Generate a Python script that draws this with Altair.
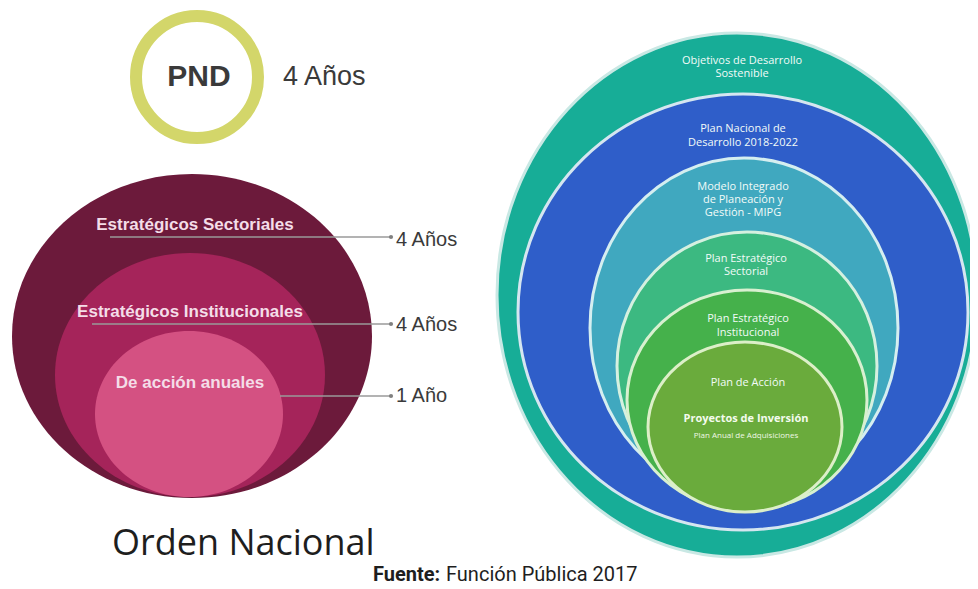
import altair as alt
import pandas as pd

# ---------------- data ----------------
shape_names = ["PND", "Sectoriales", "Institucionales", "Anuales",
               "ODS", "PND 2018-2022", "MIPG", "PE Sectorial", "PE Institucional", "Plan de Acción"]
shape_cx = [197, 192, 190, 189, 737, 743, 744, 747, 747, 745]
shape_cy = [77, 336, 375, 414, 295, 312, 328, 366, 400, 427]
shape_rx = [61, 180, 135, 94, 240, 225, 154, 130, 120, 97]
shape_ry = [61, 162, 122, 83, 262, 218, 170, 134, 110, 85]
shape_fill = ["#ffffff", "#6c1a3b", "#a5245a", "#d45182",
              "#17ad97", "#2f5ec9", "#40a8bf", "#3cb981", "#45b14b", "#6aab3c"]
shape_stroke = ["#d3d66a", "#6c1a3b", "#a5245a", "#d45182",
                "#c9e8e4", "#d5e6f0", "#d5eef0", "#d5f0e0", "#d8f0d0", "#dcefc8"]
shape_sw = [12, 0, 0, 0, 3, 3, 3, 3, 3, 3]

pnd_labels = ["PND", "4 Años"]
pnd_x = [199, 283]
pnd_y = [77, 77]

left_labels = ["Estratégicos Sectoriales", "Estratégicos Institucionales", "De acción anuales"]
left_label_x = [195, 190, 190]
left_label_y = [225, 312, 383]

period_labels = ["4 Años", "4 Años", "1 Año"]
leader_x1 = [110, 92, 280]
leader_x2 = [391, 391, 391]
leader_y = [237, 324, 396]

right_labels = ["Objetivos de Desarrollo", "Sostenible",
                "Plan Nacional de", "Desarrollo 2018-2022",
                "Modelo Integrado", "de Planeación y", "Gestión - MIPG",
                "Plan Estratégico", "Sectorial",
                "Plan Estratégico", "Institucional",
                "Plan de Acción"]
right_x = [742, 742, 743, 743, 743, 743, 743, 746, 746, 748, 748, 748]
right_y = [61, 74, 129, 143, 187, 200, 213, 259, 272, 319, 333, 383]

proj_label = ["Proyectos de Inversión"]
paa_label = ["Plan Anual de Adquisiciones"]

title_text = ["Orden Nacional"]
source_bold = ["Fuente:"]
source_text = ["Función Pública 2017"]

# ---------------- helpers ----------------
def ellipse_path(k):
    c = 0.5523
    return (f"M 1 0 C 1 {c*k:.4f} {c:.4f} {k:.4f} 0 {k:.4f} "
            f"C {-c:.4f} {k:.4f} -1 {c*k:.4f} -1 0 "
            f"C -1 {-c*k:.4f} {-c:.4f} {-k:.4f} 0 {-k:.4f} "
            f"C {c:.4f} {-k:.4f} 1 {-c*k:.4f} 1 0 Z")

shapes = pd.DataFrame({
    "name": shape_names, "cx": shape_cx, "cy": shape_cy, "rx": shape_rx, "ry": shape_ry,
    "fill": shape_fill, "stroke": shape_stroke, "sw": shape_sw,
})
paths = [ellipse_path(ry / rx) for rx, ry in zip(shape_rx, shape_ry)]

H = 579
xs = alt.Scale(domain=[8, 970], nice=False, zero=False)
ys = alt.Scale(domain=[8, 8 + H], nice=False, zero=False, reverse=True)

ellipses = alt.Chart(shapes).mark_point(opacity=1, fillOpacity=1, strokeOpacity=1).encode(
    x=alt.X("cx:Q", scale=xs, axis=None),
    y=alt.Y("cy:Q", scale=ys, axis=None),
    shape=alt.Shape("name:N", scale=alt.Scale(domain=shape_names, range=paths), legend=None),
    size=alt.Size("rx:Q", scale=alt.Scale(type="pow", exponent=2, domain=[0, 300],
                                          range=[0, 4 * 300 ** 2]), legend=None),
    fill=alt.Fill("fill:N", scale=None),
    stroke=alt.Stroke("stroke:N", scale=None),
    strokeWidth=alt.StrokeWidth("sw:Q", scale=None),
)

def text_layer(labels, xv, yv, **mark):
    df = pd.DataFrame({"t": labels, "x": xv, "y": yv})
    return alt.Chart(df).mark_text(**mark).encode(
        x=alt.X("x:Q", scale=xs, axis=None),
        y=alt.Y("y:Q", scale=ys, axis=None),
        text="t:N",
    )

leaders_df = pd.DataFrame({"x1": leader_x1, "x2": leader_x2, "y": leader_y, "p": period_labels})
leaders = alt.Chart(leaders_df).mark_rule(color="#9a9a9a", strokeWidth=1.3).encode(
    x=alt.X("x1:Q", scale=xs, axis=None), x2="x2:Q", y=alt.Y("y:Q", scale=ys, axis=None))
dots = alt.Chart(leaders_df).mark_point(filled=True, color="#808080", size=18, opacity=1).encode(
    x=alt.X("x2:Q", scale=xs, axis=None), y=alt.Y("y:Q", scale=ys, axis=None))

layers = [
    ellipses,
    leaders,
    dots,
    text_layer(pnd_labels[:1], pnd_x[:1], pnd_y[:1], font="Liberation Sans", fontWeight="bold",
               fontSize=30, color="#3a3a3a", align="center", baseline="middle"),
    text_layer(pnd_labels[1:], pnd_x[1:], pnd_y[1:], font="Liberation Sans",
               fontSize=27, color="#3a3a3a", align="left", baseline="middle"),
    text_layer(left_labels, left_label_x, left_label_y, font="Liberation Sans", fontWeight="bold",
               fontSize=17, color="#f4dde8", align="center", baseline="middle"),
    text_layer(period_labels, [396] * 3, [240, 325, 396], font="Liberation Sans",
               fontSize=20, color="#3a3a3a", align="left", baseline="middle"),
    text_layer(right_labels, right_x, right_y, font="Open Sans",
               fontSize=11, color="#f2fbf8", align="center", baseline="middle"),
    text_layer(proj_label, [746], [419], font="Open Sans", fontWeight="bold",
               fontSize=11, color="#f4fbee", align="center", baseline="middle"),
    text_layer(paa_label, [746], [436], font="Open Sans",
               fontSize=8, color="#eef8e4", align="center", baseline="middle"),
    text_layer(title_text, [112], [555], font="Open Sans",
               fontSize=36, color="#1e1e1e", align="left", baseline="alphabetic"),
    text_layer(source_bold, [373], [581], font="Roboto", fontWeight="bold",
               fontSize=20, color="#1e1e1e", align="left", baseline="alphabetic"),
    text_layer(source_text, [446], [581], font="Roboto",
               fontSize=20, color="#1e1e1e", align="left", baseline="alphabetic"),
]

chart = alt.layer(*layers).properties(
    width=962, height=H, padding=0,
    autosize=alt.AutoSizeParams(type="none"),
    background="#ffffff",
).configure_view(strokeWidth=0)

chart.save("out.html", embed_options={"renderer": "svg", "actions": False})
